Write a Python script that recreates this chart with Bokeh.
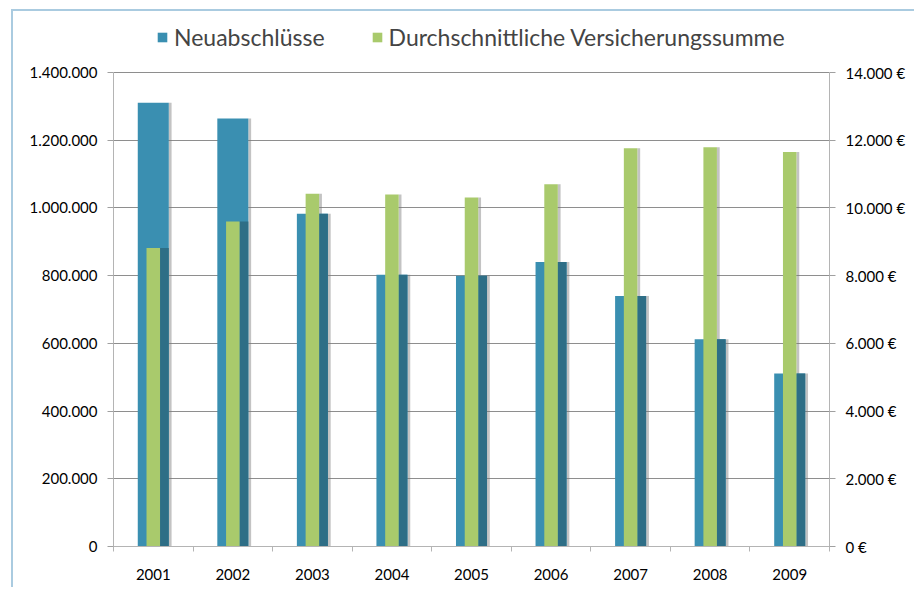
from bokeh.plotting import figure
from bokeh.models import Range1d, LinearAxis, FixedTicker, Legend, LegendItem, ColumnDataSource
from bokeh.transform import dodge
from bokeh.embed import file_html
from bokeh.resources import INLINE

# ---- data ----
years = ["2001", "2002", "2003", "2004", "2005", "2006", "2007", "2008", "2009"]
neuabschluesse = [1311000, 1264000, 983000, 803000, 800000, 840000, 740000, 612000, 511000]
versicherungssumme = [8820, 9600, 10420, 10400, 10310, 10700, 11760, 11790, 11650]
left_ticks = [0, 200000, 400000, 600000, 800000, 1000000, 1200000, 1400000]
right_ticks = [0, 2000, 4000, 6000, 8000, 10000, 12000, 14000]

LEFT_MAX = 1400000
RIGHT_MAX = 14000

BLUE = "#3a8fb1"
BLUE_DARK = "#2e6e86"
GREEN = "#a9ca6c"
FONT = "Lato"

# layout (pixels): frame spans the full canvas height above the x axis;
# the value axes occupy only the lower PLOT_H pixels, leaving room for the legend
FRAME_H = 535
PLOT_H = 474
headroom = FRAME_H / PLOT_H

n = len(years)
xs = list(range(1, n + 1))
BW = 0.39   # blue bar width
GW = 0.17   # green bar width
SH = 0.035  # shadow width
scale = LEFT_MAX / RIGHT_MAX

src = ColumnDataSource(dict(
    x=xs,
    blue=neuabschluesse,
    green=versicherungssumme,
    strip_top=[min(b, g * scale) for b, g in zip(neuabschluesse, versicherungssumme)],
))

p = figure(width=903, height=578, x_range=Range1d(0.5, n + 0.5),
           y_range=Range1d(0, LEFT_MAX * headroom), output_backend="svg", toolbar_location=None,
           min_border_left=100, min_border_right=87, min_border_top=0, min_border_bottom=43)
p.extra_y_ranges = {"right": Range1d(0, RIGHT_MAX * headroom)}
p.outline_line_color = None
p.background_fill_color = "white"
p.border_fill_color = "white"
p.styles = {"border-left": "2px solid #aacbe0", "border-top": "2px solid #aacbe0"}
p.margin = (9, 0, 0, 11)

# shadows
p.vbar(x=dodge("x", BW / 2 + SH / 2, range=p.x_range), top="blue", width=SH, source=src,
       fill_color="#7a7a7a", fill_alpha=0.45, line_color=None)
p.vbar(x=dodge("x", GW / 2 + SH / 2, range=p.x_range), top="green", width=SH, source=src,
       fill_color="#7a7a7a", fill_alpha=0.45, line_color=None, y_range_name="right")

blue_r = p.vbar(x="x", top="blue", width=BW, source=src, fill_color=BLUE, line_color=None)
p.vbar(x=dodge("x", GW / 2 + (BW - GW) / 4, range=p.x_range), top="strip_top", width=(BW - GW) / 2,
       source=src, fill_color=BLUE_DARK, line_color=None)
green_r = p.vbar(x="x", top="green", width=GW, source=src, fill_color=GREEN, line_color=None,
                 y_range_name="right")

# left axis
yax = p.yaxis[0]
yax.ticker = FixedTicker(ticks=left_ticks)
yax.bounds = (0, LEFT_MAX)
yax.major_label_overrides = {t: f"{t:,}".replace(",", ".") for t in left_ticks}
yax.minor_tick_line_color = None
yax.major_tick_out = 6
yax.major_tick_in = 0
yax.axis_line_color = "#b4b4b4"
yax.major_tick_line_color = "#a0a0a0"
yax.major_label_standoff = 10
yax.major_label_text_font = FONT
yax.major_label_text_font_size = "15px"
yax.major_label_text_color = "#000000"

# right axis
rax = LinearAxis(y_range_name="right")
rax.ticker = FixedTicker(ticks=right_ticks)
rax.bounds = (0, RIGHT_MAX)
rax.major_label_overrides = {t: f"{t:,}".replace(",", ".") + " €" for t in right_ticks}
rax.minor_tick_line_color = None
rax.major_tick_out = 6
rax.major_tick_in = 0
rax.axis_line_color = "#b4b4b4"
rax.major_tick_line_color = "#a0a0a0"
rax.major_label_standoff = 10
rax.major_label_text_font = FONT
rax.major_label_text_font_size = "15px"
rax.major_label_text_color = "#000000"
p.add_layout(rax, "right")

# x axis
xax = p.xaxis[0]
xax.ticker = FixedTicker(ticks=xs, minor_ticks=[i + 0.5 for i in range(0, n + 1)])
xax.major_label_overrides = {x: y for x, y in zip(xs, years)}
xax.major_tick_out = 0
xax.major_tick_in = 0
xax.minor_tick_out = 5
xax.minor_tick_in = 0
xax.minor_tick_line_color = "#b4b4b4"
xax.axis_line_color = "#b4b4b4"
xax.major_label_standoff = 17
xax.major_label_text_font = FONT
xax.major_label_text_font_size = "15px"
xax.major_label_text_color = "#000000"

p.xgrid.visible = False
p.ygrid.grid_line_color = "#8e8e8e"
p.ygrid.grid_line_width = 1

legend = Legend(items=[LegendItem(label="Neuabschlüsse", renderers=[blue_r]),
                       LegendItem(label="Durchschnittliche Versicherungssumme", renderers=[green_r])],
                orientation="horizontal", location=(43, 495),
                border_line_color=None, background_fill_alpha=0,
                label_text_font=FONT, label_text_font_size="23px",
                glyph_width=12, glyph_height=12, spacing=46, label_standoff=6,
                padding=0, margin=0)
p.add_layout(legend)

open("out.html", "w").write(file_html(p, INLINE))
